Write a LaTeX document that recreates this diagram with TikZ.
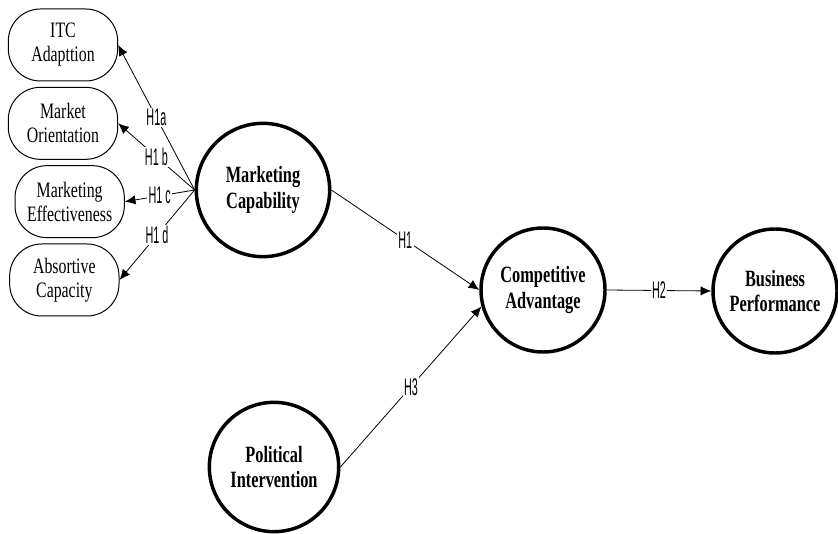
\documentclass[tikz,border=0pt]{standalone}
\usepackage{fontspec}
\usetikzlibrary{positioning,arrows.meta}
\newfontfamily\boxfont[FakeStretch=0.72]{Liberation Serif}
\newfontfamily\capfont[FakeStretch=0.7]{Liberation Serif}
\newfontfamily\hypfont[FakeStretch=0.45]{Liberation Sans}
\tikzset{
  arrow/.style={-{Latex[length=8pt,width=7pt]}, line width=0.6pt, draw=black},
  hyp/.style={fill=white, inner sep=1pt, font=\hypfont\fontsize{18}{18}\selectfont},
  factor/.style={
    draw,
    line width=0.75pt,
    rectangle,
    rounded corners=24pt,
    minimum width=82pt,
    minimum height=54pt,
    inner sep=2pt,
    align=center,
    font=\boxfont\fontsize{16.5}{18}\selectfont
  },
  construct/.style={
    circle,
    draw,
    line width=2.6pt,
    minimum size=93pt,
    inner sep=0pt,
    align=center,
    font=\capfont\bfseries\fontsize{17.5}{19}\selectfont
  }
}

\begin{document}
\begin{tikzpicture}[x=0.75pt, y=-0.75pt]
\useasboundingbox (0,0) rectangle (838,534);

% Constructs
\node[construct, minimum size=100pt] (mc) at (263,190) {Marketing\\Capability};
\node[construct] (ca) at (543,290) {Competitive\\Advantage};
\node[construct] (bp) at (775,291) {Business\\Performance};
\node[construct, minimum size=97pt] (pi) at (274,467) {Political\\Intervention};

% Dimensions of marketing capability
\node[factor] (itc) at (63,45) {ITC\\Adapttion};
\node[factor, below=4pt of itc] (mo) {Market\\Orientation};
\node[factor, below=4pt of mo, xshift=5pt] (me) {Marketing\\Effectiveness};
\node[factor, below=4pt of me, xshift=-4pt] (ac) {Absortive\\Capacity};

% Connections: H1a - H1d
\draw[arrow] (mc.west) -- node[midway, hyp] {H1a} (itc.east);
\draw[arrow] (mc.west) -- node[midway, hyp] {H1 b} (mo.east);
\draw[arrow] (mc.west) -- node[midway, hyp] {H1 c} (me.east);
\draw[arrow] (mc.west) -- node[midway, hyp] {H1 d} (ac.east);

% Connections: H1, H2, H3
\draw[arrow] (mc.east) -- node[midway, hyp] {H1} (ca.west);
\draw[arrow] (ca.east) -- node[midway, hyp] {H2} (bp.west);
\draw[arrow] (pi.east) -- node[midway, hyp] {H3} (ca.195);

\end{tikzpicture}
\end{document}
